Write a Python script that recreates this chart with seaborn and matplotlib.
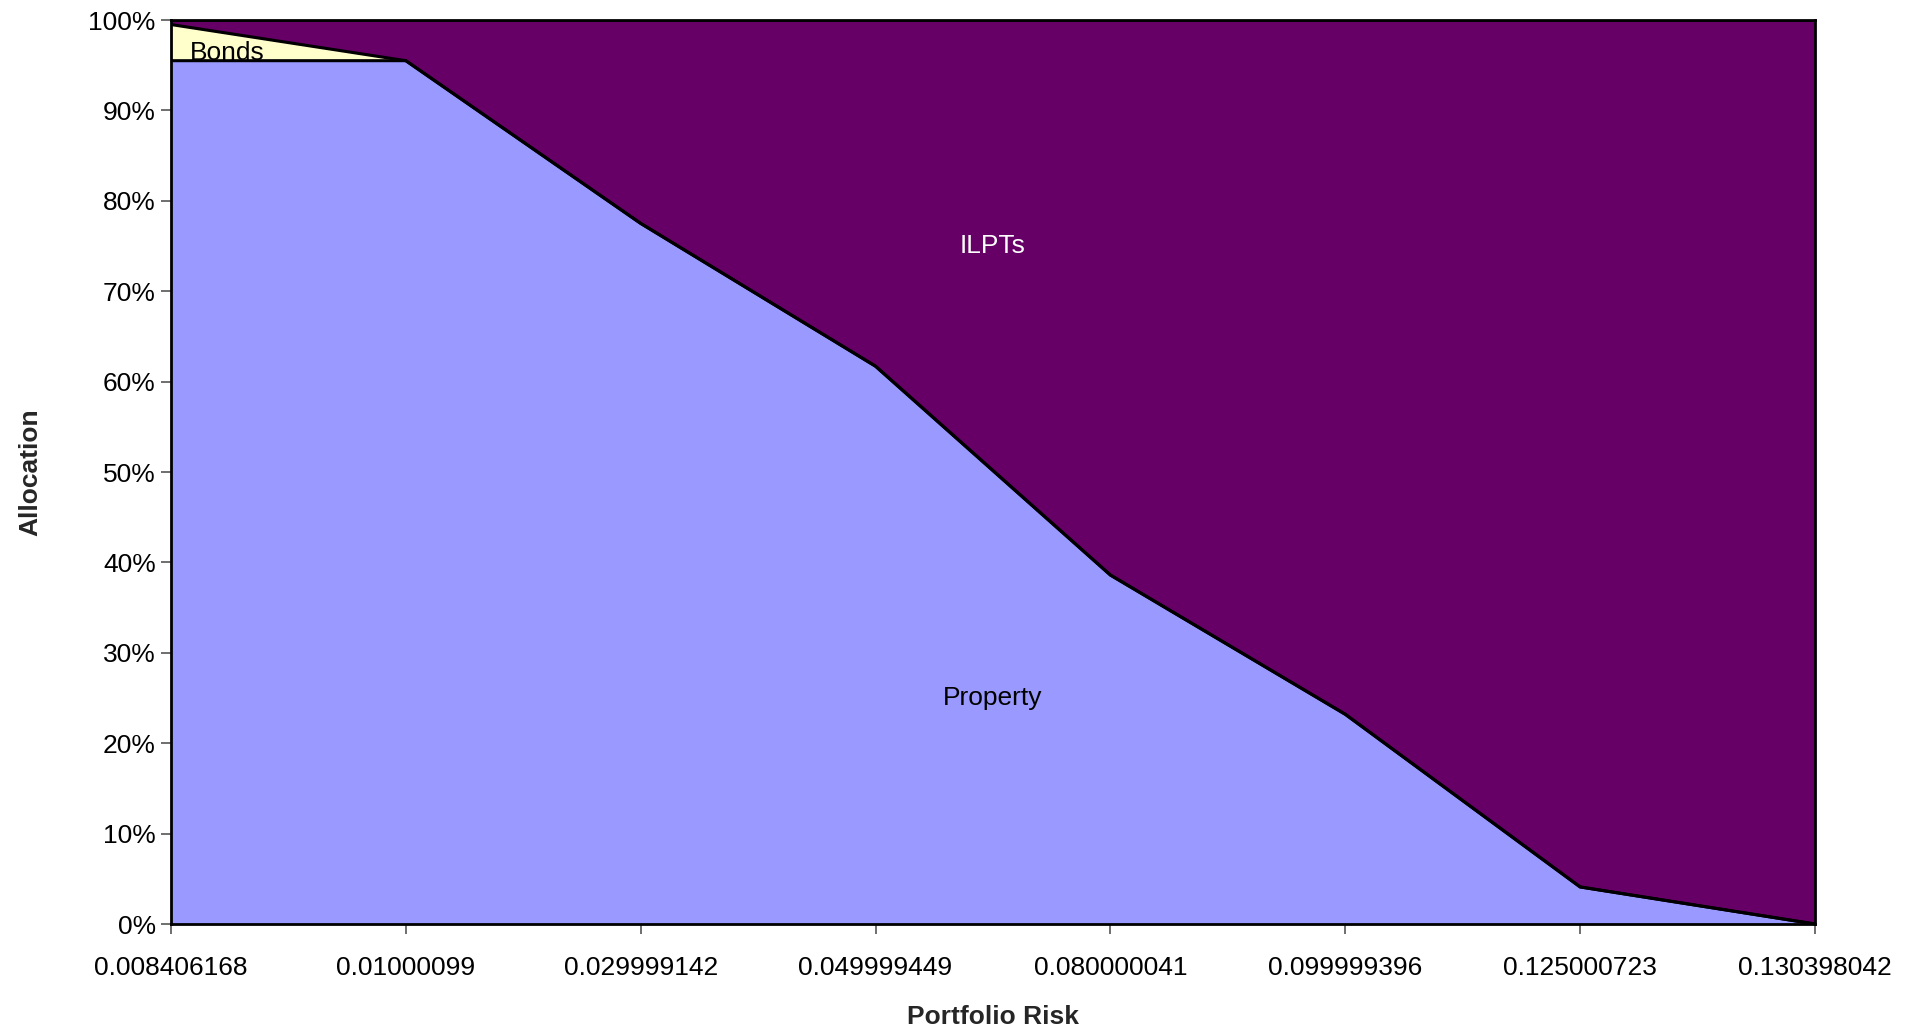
import matplotlib
matplotlib.use("Agg")
import matplotlib.pyplot as plt
import seaborn as sns
import numpy as np
import pandas as pd

risk_labels = ["0.008406168", "0.01000099", "0.029999142", "0.049999449",
               "0.080000041", "0.099999396", "0.125000723", "0.130398042"]
property_alloc = [95.5, 95.5, 77.5, 61.7, 38.6, 23.2, 4.1, 0.0]
bonds_alloc = [4.0, 0.0, 0.0, 0.0, 0.0, 0.0, 0.0, 0.0]
ilpts_alloc = [0.5, 4.5, 22.5, 38.3, 61.4, 76.8, 95.9, 100.0]

colors = {"Property": "#9999FF", "Bonds": "#FFFFCC", "ILPTs": "#660066"}

sns.set_theme(style="white")
plt.rcParams['font.family'] = ['Liberation Sans', 'DejaVu Sans']

x = np.arange(len(risk_labels))
df = pd.DataFrame({"x": x, "Property": property_alloc, "Bonds": bonds_alloc, "ILPTs": ilpts_alloc})
df["c1"] = df["Property"]
df["c2"] = df["Property"] + df["Bonds"]
df["c3"] = df["c2"] + df["ILPTs"]

fig, ax = plt.subplots(figsize=(19.19, 10.26), dpi=100)
fig.subplots_adjust(left=0.0891, right=0.9458, top=0.9805, bottom=0.0994)

ax.stackplot(df["x"], df["Property"], df["Bonds"], df["ILPTs"],
             colors=[colors["Property"], colors["Bonds"], colors["ILPTs"]], linewidth=0)
for col in ["c1", "c2", "c3"]:
    sns.lineplot(data=df, x="x", y=col, ax=ax, color="black", linewidth=2.2, legend=False)

ax.set_xlim(0, len(risk_labels) - 1)
ax.set_ylim(0, 100)
ax.set_xticks(x)
ax.set_xticklabels(risk_labels)
ax.set_yticks(np.arange(0, 101, 10))
ax.set_yticklabels([f"{v}%" for v in range(0, 101, 10)])
ax.tick_params(axis="both", labelsize=19, direction="out", length=7, width=1.2,
               color="#555555", bottom=True, left=True, labelcolor="black")
ax.tick_params(axis="x", pad=16)
ax.tick_params(axis="y", pad=4)
for s in ax.spines.values():
    s.set_color("black")
    s.set_linewidth(2)

ax.set_xlabel("Portfolio Risk", fontsize=19, fontweight="bold", labelpad=18)
ax.set_ylabel("Allocation", fontsize=19, fontweight="bold", labelpad=33)

ax.text(0.24, 96.4, "Bonds", fontsize=19, color="black", ha="center", va="center")
ax.text(3.5, 75.0, "ILPTs", fontsize=19, color="white", ha="center", va="center")
ax.text(3.5, 25.0, "Property", fontsize=19, color="black", ha="center", va="center")

fig.savefig("out.png", dpi=100)
